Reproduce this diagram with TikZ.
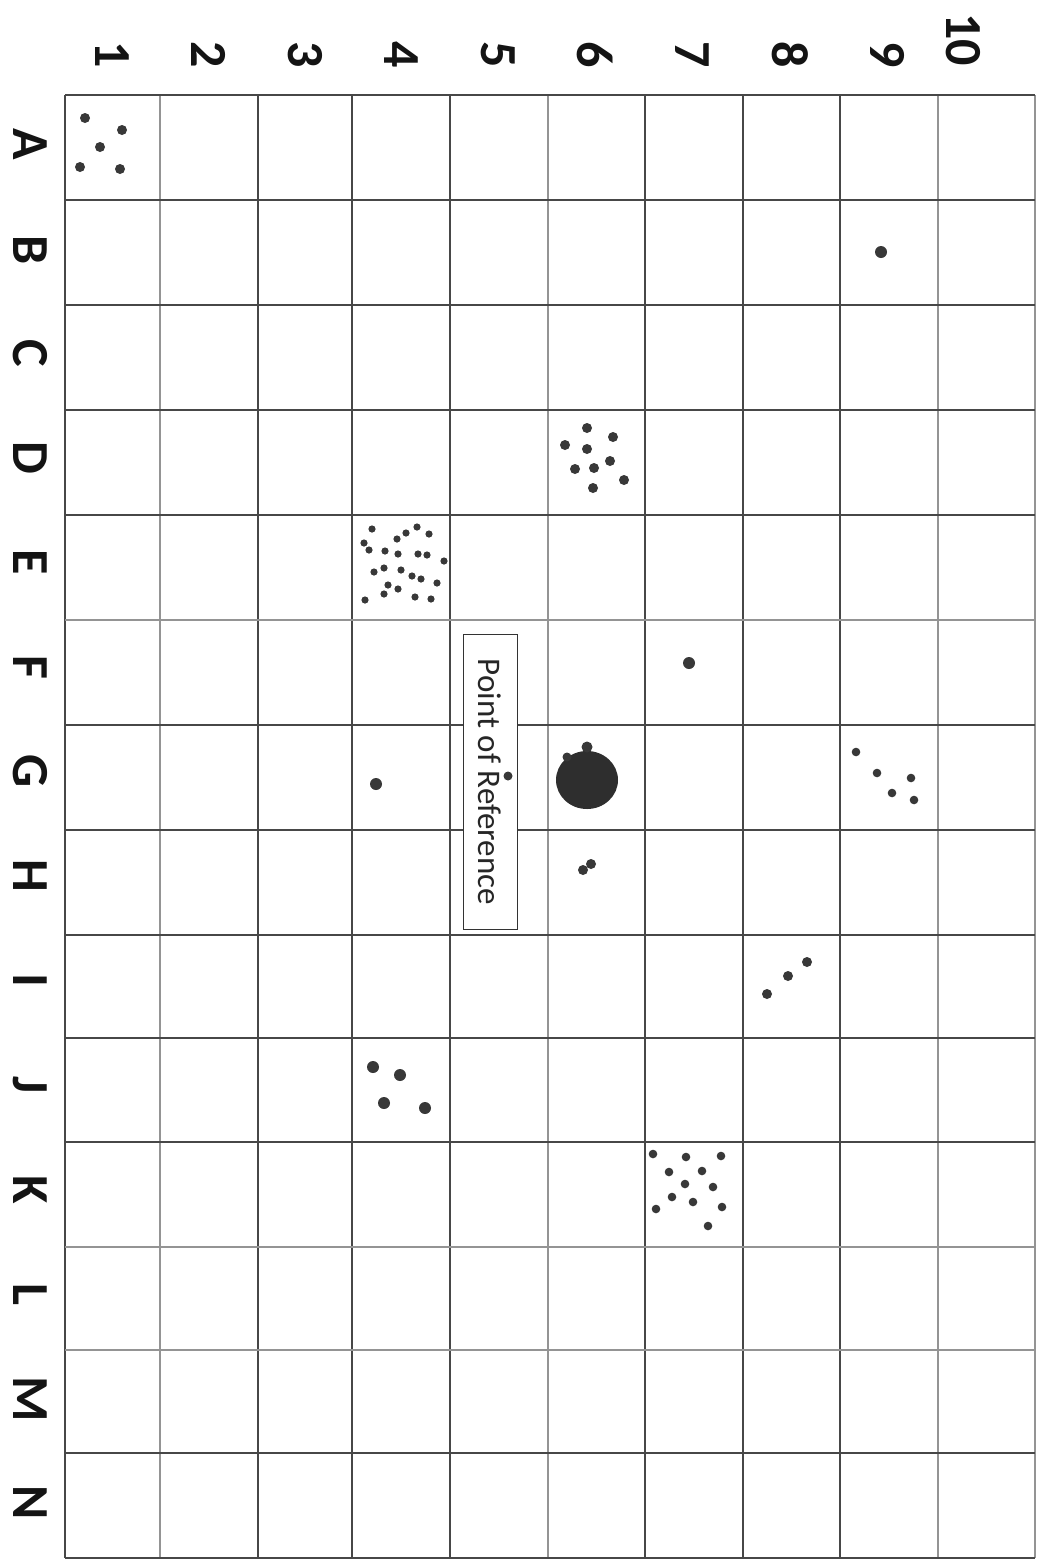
\documentclass[tikz,border=0pt]{standalone}
\usepackage{fontspec}
\setmainfont{Carlito}
\begin{document}
\begin{tikzpicture}[x=1pt,y=-1pt,
  gdark/.style={draw=black!72,line width=2.2pt},
  glight/.style={draw=black!42,line width=2.6pt},
  axlab/.style={font=\fontsize{52}{52}\selectfont\bfseries,rotate=-90,inner sep=0pt,text=black!92},
  dotc/.style={fill=black!78},
  refbox/.style={draw=black!80,fill=white,line width=1pt,rotate=-90,minimum width=295pt,minimum height=54pt,inner sep=0pt,font=\fontsize{33}{33}\selectfont,text=black!85}]
\useasboundingbox (0,0) rectangle (1045,1564);
\fill[white] (0,0) rectangle (1045,1564);
% vertical grid lines
\foreach \x in {65,258,352,450,645,743,840}{\draw[gdark] (\x,95) -- (\x,1558);}
\foreach \x in {160,548,938,1035}{\draw[glight] (\x,95) -- (\x,1558);}
% horizontal grid lines
\foreach \y in {95,200,305,410,515,725,830,935,1038,1142,1453,1558}{\draw[gdark] (65,\y) -- (1035,\y);}
\foreach \y in {620,1247,1350}{\draw[glight] (65,\y) -- (1035,\y);}
% column labels
\node[axlab,anchor=east] (c1) at (112,68) {1};
\node[axlab,anchor=east] (c2) at (209,68) {2};
\node[axlab,anchor=east] (c3) at (305,68) {3};
\node[axlab,anchor=east] (c4) at (401,68) {4};
\node[axlab,anchor=east] (c5) at (498,68) {5};
\node[axlab,anchor=east] (c6) at (595,68) {6};
\node[axlab,anchor=east] (c7) at (692,68) {7};
\node[axlab,anchor=east] (c8) at (790,68) {8};
\node[axlab,anchor=east] (c9) at (888,68) {9};
\node[axlab,anchor=east] (c10) at (963,66) {10};
% row labels
\foreach \l/\y [count=\i] in {A/144,B/250,C/353,D/458,E/562,F/667,G/771,H/876,I/980,J/1085,K/1190,L/1294,M/1399,N/1503}{
  \node[axlab] (r\l) at (30,\y) {\l};}
% point of reference
\node[refbox] (ref) at (490,782) {Point of Reference};
% A1
\foreach \p in {(85,118),(122,130),(100,147),(80,167),(120,169)}{\fill[dotc] \p circle (5);}
% B9
\fill[dotc] (881,252) circle (6);
% D6
\foreach \p in {(587,428),(613,437),(565,445),(587,449),(610,461),(575,469),(594,468),(624,480),(593,488)}{\fill[dotc] \p circle (5);}
% E4
\foreach \p in {(372,529),(406,533),(417,527),(429,534),(397,539),(364,543),(369,550),(385,551),(398,554),(418,554),(427,555),(444,561),(374,572),(384,568),(401,570),(412,576),(421,579),(437,583),(388,585),(398,589),(384,594),(415,597),(431,599),(365,600)}{\fill[dotc] \p circle (3.6);}
% F7
\fill[dotc] (689,663) circle (6);
% G4
\fill[dotc] (376,784) circle (6);
% reference dot
\fill[dotc] (508,776) circle (4.5);
% G6 big
\fill[black!82] (587,780) ellipse (31 and 29);
\fill[dotc] (587,747) circle (5.5);
\fill[dotc] (567,757) circle (4.5);
% H6
\fill[dotc] (583,870) circle (5);
\fill[dotc] (591,864) circle (5);
% G9
\foreach \p in {(856,752),(877,773),(911,778),(892,793),(914,800)}{\fill[dotc] \p circle (4.3);}
% I8
\foreach \p in {(807,962),(788,976),(767,994)}{\fill[dotc] \p circle (5);}
% J4
\foreach \p in {(373,1067),(400,1075),(384,1103),(425,1108)}{\fill[dotc] \p circle (6);}
% K7
\foreach \p in {(653,1154),(686,1157),(721,1156),(669,1172),(702,1171),(685,1184),(713,1187),(672,1197),(693,1202),(656,1209),(722,1207),(708,1226)}{\fill[dotc] \p circle (4.3);}
\end{tikzpicture}
\end{document}
